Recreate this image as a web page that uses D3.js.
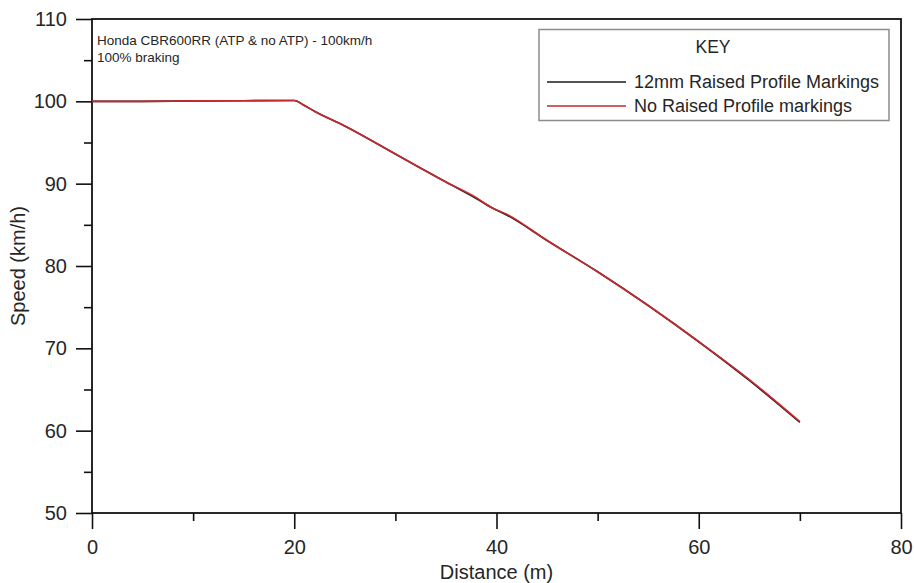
<!DOCTYPE html>
<html>
<head>
<meta charset="utf-8">
<script src="https://cdn.jsdelivr.net/npm/d3@7"></script>
<style>
  html, body { margin: 0; padding: 0; background: #fff; }
  svg { display: block; font-family: "Liberation Sans", Arial, sans-serif; }
</style>
</head>
<body>
<svg id="chart" width="914" height="583"></svg>
<script>
// ---- Data ----
const distance      = [0, 5, 10, 15, 20, 21, 22, 25, 30, 35, 38, 39.5, 41, 45, 50, 55, 60, 65, 70];
const speed12mm     = [100.0, 100.0, 100.05, 100.08, 100.1, 99.5, 98.8, 97.0, 93.6, 90.2, 88.2, 87.1, 86.2, 83.1, 79.3, 75.2, 70.8, 66.1, 61.0];
const speedNoRaised = [100.0, 100.0, 100.05, 100.08, 100.1, 99.5, 98.8, 97.0, 93.6, 90.2, 88.3, 87.1, 86.3, 83.1, 79.3, 75.2, 70.8, 66.2, 61.1];
const seriesNames   = ["12mm Raised Profile Markings", "No Raised Profile markings"];
const seriesColors  = ["#1a1a1a", "#c62a2f"];
const xMajorTicks   = [0, 20, 40, 60, 80];
const xMinorTicks   = [10, 30, 50, 70];
const yMajorTicks   = [50, 60, 70, 80, 90, 100, 110];
const yMinorTicks   = [55, 65, 75, 85, 95, 105];
const titleLines    = ["Honda CBR600RR (ATP & no ATP) - 100km/h", "100% braking"];
const xLabel        = "Distance (m)";
const yLabel        = "Speed (km/h)";
const legendTitle   = "KEY";

// ---- Layout ----
const L = 92, R = 901, T = 19, B = 513;
const svg = d3.select("#chart");
const x = d3.scaleLinear().domain([0, 80]).range([L, R]);
const y = d3.scaleLinear().domain([50, 110]).range([B, T]);
const textColor = "#262626";

// Bottom axis: major + minor ticks
const gx = svg.append("g").attr("transform", `translate(0,${B})`)
  .call(d3.axisBottom(x).tickValues(xMajorTicks).tickSize(16).tickSizeOuter(0).tickPadding(11).tickFormat(d3.format("d")));
const gxm = svg.append("g").attr("transform", `translate(0,${B})`)
  .call(d3.axisBottom(x).tickValues(xMinorTicks).tickSize(8).tickSizeOuter(0).tickFormat(""));
// Left axis: major + minor ticks
const gy = svg.append("g").attr("transform", `translate(${L},0)`)
  .call(d3.axisLeft(y).tickValues(yMajorTicks).tickSize(16).tickSizeOuter(0).tickPadding(9).tickFormat(d3.format("d")));
const gym = svg.append("g").attr("transform", `translate(${L},0)`)
  .call(d3.axisLeft(y).tickValues(yMinorTicks).tickSize(8).tickSizeOuter(0).tickFormat(""));

[gx, gxm, gy, gym].forEach(g => {
  g.select(".domain").remove();
  g.selectAll(".tick line").attr("stroke", "#111").attr("stroke-width", 1.6);
  g.selectAll(".tick text").attr("fill", textColor).style("font-size", "20px")
    .style("font-family", "'Liberation Sans', Arial, sans-serif");
});

// Frame
svg.append("rect").attr("x", L).attr("y", T).attr("width", R - L).attr("height", B - T)
  .attr("fill", "none").attr("stroke", "#111").attr("stroke-width", 1.8);

// Lines
const line = d3.line().x((d, i) => x(distance[i])).y(d => y(d)).curve(d3.curveMonotoneX);
[speed12mm, speedNoRaised].forEach((s, k) => {
  svg.append("path").datum(s).attr("d", line)
    .attr("fill", "none").attr("stroke", seriesColors[k]).attr("stroke-width", 1.6);
});

// Title text
svg.append("g").selectAll("text").data(titleLines).join("text")
  .attr("x", 97).attr("y", (d, i) => 45 + i * 17)
  .attr("fill", textColor).style("font-size", "13.5px").text(d => d);

// Legend
const lg = svg.append("g");
lg.append("rect").attr("x", 539).attr("y", 29.5).attr("width", 350).attr("height", 91)
  .attr("fill", "#fff").attr("stroke", "#8c8c8c").attr("stroke-width", 1.5);
lg.append("text").attr("x", 713).attr("y", 53).attr("text-anchor", "middle")
  .attr("fill", textColor).style("font-size", "17.5px").text(legendTitle);
seriesNames.forEach((n, k) => {
  const yy = 82 + k * 24;
  lg.append("line").attr("x1", 547).attr("x2", 626).attr("y1", yy).attr("y2", yy)
    .attr("stroke", seriesColors[k]).attr("stroke-width", 1.6);
  lg.append("text").attr("x", 634).attr("y", yy + 6)
    .attr("fill", textColor).style("font-size", "18px").text(n);
});

// Axis labels
svg.append("text").attr("x", (L + R) / 2).attr("y", 579).attr("text-anchor", "middle")
  .attr("fill", textColor).style("font-size", "20px").text(xLabel);
svg.append("text").attr("transform", `translate(25,${(T + B) / 2}) rotate(-90)`)
  .attr("text-anchor", "middle").attr("fill", textColor).style("font-size", "20px").text(yLabel);
</script>
</body>
</html>
